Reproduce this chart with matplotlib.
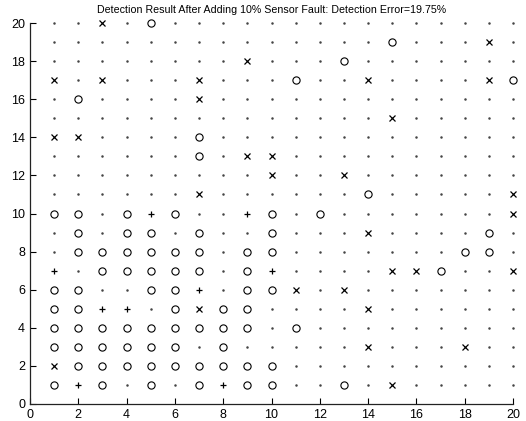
import numpy as np
import matplotlib.pyplot as plt

# detection result grid, rows from y=20 down to y=1, columns x=1..20
# '.' = normal, 'o' = fault, 'x' = false alarm, '+' = missed
rows = [
    "..x.o...............",
    "..............o...x.",
    "........x...o.......",
    "x.x...x...o..x....xo",
    ".o....x.............",
    "..............x.....",
    "xx....o.............",
    "......o.xx..........",
    ".........x..x.......",
    "......x......o.....x",
    "oo.o+o..+o.o.......x",
    ".o.oo.o..o...x....o.",
    ".oooooo.oo.......oo.",
    "+.ooooo.o+....xxo..x",
    "oo..oo+.oox.x.......",
    "oo++.oxoo....x......",
    "ooooooooo.o.........",
    "oooooo.o.....x...x..",
    "xooooooooo..........",
    "o+o.o.o+oo..o.x.....",
]
y_values = list(range(20, 0, -1))
title = "Detection Result After Adding 10% Sensor Fault: Detection Error=19.75%"

styles = {
    '.': dict(marker='.', ms=1.6, mec='#444444', mfc='#444444'),
    'o': dict(marker='o', ms=5.2, mec='black', mfc='none', mew=0.8),
    'x': dict(marker='x', ms=3.8, mec='black', mew=0.9),
    '+': dict(marker='+', ms=5.0, mec='black', mew=0.9),
}

fig = plt.figure(figsize=(5.26, 4.21), dpi=100)
ax = fig.add_axes([30 / 526, 17 / 421, 483 / 526, 381 / 421])

for sym, st in styles.items():
    xs, ys = [], []
    for y, row in zip(y_values, rows):
        for i, c in enumerate(row):
            if c == sym:
                xs.append(i + 1)
                ys.append(y)
    ax.plot(xs, ys, linestyle='none', clip_on=False, **st)

ax.set_xlim(0, 20)
ax.set_ylim(0, 20)
ax.set_xticks(np.arange(0, 21, 2))
ax.set_yticks(np.arange(0, 21, 2))
ax.tick_params(direction='in', length=4, width=0.8, labelsize=9, colors='black')
for s in ['top', 'right']:
    ax.spines[s].set_visible(False)
for s in ['left', 'bottom']:
    ax.spines[s].set_linewidth(0.9)
    ax.spines[s].set_color('#222222')
ax.set_title(title, fontsize=7.7, family='Liberation Sans', pad=7)
for lab in ax.get_xticklabels() + ax.get_yticklabels():
    lab.set_family('Liberation Sans')

fig.savefig('out.png', dpi=100)
